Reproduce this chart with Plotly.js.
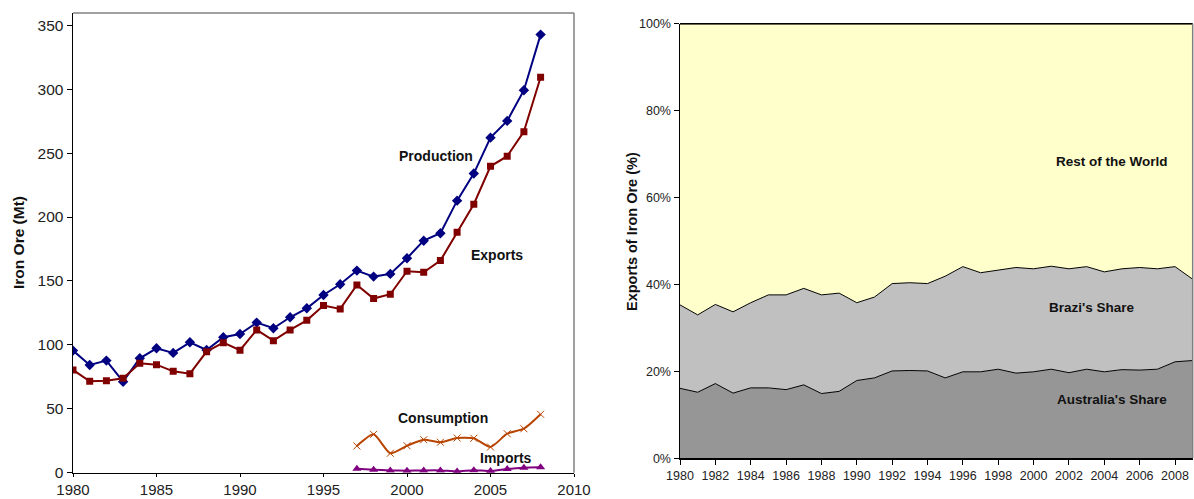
<!DOCTYPE html>
<html>
<head>
<meta charset="utf-8">
<script src="https://cdn.plot.ly/plotly-3.0.1.min.js"></script>
<style>html,body{margin:0;padding:0;background:#fff;}#chart{width:1194px;height:499px;}</style>
</head>
<body>
<div id="chart"></div>
<script>
// Left chart data (Mt)
const yearsA = [1980,1981,1982,1983,1984,1985,1986,1987,1988,1989,1990,1991,1992,1993,1994,1995,1996,1997,1998,1999,2000,2001,2002,2003,2004,2005,2006,2007,2008];
const production = [95.5,84.3,87.7,71.2,89.5,97.3,93.7,102,96,106,108.5,117.4,113,121.6,128.6,139,147.4,158.1,153.4,155.5,167.8,181.5,187.3,212.8,234,262.1,275.2,299.2,342.7];
const exportsMt = [80.4,71.5,72,73.8,85.6,84.5,79.3,77.5,94.7,101.7,95.8,111.7,103.3,111.7,119.2,130.7,128.1,146.9,136.2,139.6,157.6,156.8,165.9,188.1,210,239.7,247.6,266.8,309.4];
const yearsB = [1997,1998,1999,2000,2001,2002,2003,2004,2005,2006,2007,2008];
const consumption = [20.9,30,15.2,21.1,25.8,23.8,27.2,26.9,20.1,30.5,34.4,45.7];
const imports = [3.1,2.3,1.8,1.6,1.8,1.8,1.0,2.0,1.3,2.9,3.9,4.2];

// Right chart data (% of exports)
const yearsC = [1980,1981,1982,1983,1984,1985,1986,1987,1988,1989,1990,1991,1992,1993,1994,1995,1996,1997,1998,1999,2000,2001,2002,2003,2004,2005,2006,2007,2008,2009];
const australiaShare = [16.1,15.2,17.2,15.0,16.2,16.2,15.8,16.9,14.9,15.4,17.9,18.5,20.1,20.2,20.1,18.5,19.9,19.9,20.5,19.6,19.9,20.5,19.7,20.5,19.9,20.4,20.3,20.5,22.2,22.5];
const brazilShare = [19.2,17.8,18.2,18.7,19.6,21.4,21.8,22.2,22.7,22.6,17.9,18.6,20.1,20.2,20.1,23.4,24.2,22.8,22.8,24.3,23.7,23.7,23.9,23.6,23.0,23.2,23.6,23.1,21.9,18.7];
const restShare = [64.7,67.0,64.6,66.3,64.2,62.4,62.4,60.9,62.4,62.0,64.2,62.9,59.8,59.6,59.8,58.1,55.9,57.3,56.7,56.1,56.4,55.8,56.4,55.9,57.1,56.4,56.1,56.4,55.9,58.8];

const W = 1194, H = 499;
const px = v => v / W;
const py = v => 1 - v / H;

const traces = [
  {x: yearsA, y: production, type: 'scatter', mode: 'lines+markers', name: 'Production',
   line: {color: '#000080', width: 2}, marker: {symbol: 'diamond', size: 8, color: '#000080'}, xaxis: 'x', yaxis: 'y'},
  {x: yearsA, y: exportsMt, type: 'scatter', mode: 'lines+markers', name: 'Exports',
   line: {color: '#800000', width: 2}, marker: {symbol: 'square', size: 7, color: '#800000'}, xaxis: 'x', yaxis: 'y'},
  {x: yearsB, y: consumption, type: 'scatter', mode: 'lines+markers', name: 'Consumption',
   line: {color: '#B84400', width: 2, shape: 'spline', smoothing: 0.6}, marker: {symbol: 'x-thin', size: 7, line: {color: '#B84400', width: 1}}, xaxis: 'x', yaxis: 'y'},
  {x: yearsB, y: imports, type: 'scatter', mode: 'lines+markers', name: 'Imports',
   line: {color: '#800080', width: 2, shape: 'spline', smoothing: 0.6}, marker: {symbol: 'triangle-up', size: 8, color: '#800080'}, xaxis: 'x', yaxis: 'y'},
  {x: yearsC, y: australiaShare, type: 'scatter', mode: 'lines', stackgroup: 'one', name: "Australia's Share",
   line: {color: '#000', width: 1}, fillcolor: '#969696', xaxis: 'x2', yaxis: 'y2'},
  {x: yearsC, y: brazilShare, type: 'scatter', mode: 'lines', stackgroup: 'one', name: "Brazi's Share",
   line: {color: '#000', width: 1}, fillcolor: '#C0C0C0', xaxis: 'x2', yaxis: 'y2'},
  {x: yearsC, y: restShare, type: 'scatter', mode: 'lines', stackgroup: 'one', name: 'Rest of the World',
   line: {color: '#000', width: 1}, fillcolor: '#FFFFCC', xaxis: 'x2', yaxis: 'y2'}
];

const FAM = 'Liberation Sans, Arial, sans-serif';
const tickFontL = {family: FAM, size: 15.5, color: '#222'};
const tickFontLX = {family: FAM, size: 15, color: '#222'};
const tickFontR = {family: FAM, size: 12.5, color: '#222'};
const lblFont = {family: FAM, size: 14, color: '#111', weight: 'bold'};
const lblFontR = {family: FAM, size: 13.5, color: '#111', weight: 'bold'};
const titleFontL = {family: FAM, size: 15.5, color: '#111', weight: 'bold'};
const titleFontR = {family: FAM, size: 14.5, color: '#111', weight: 'bold'};

function ann(text, x, y, font, angle) {
  return {text: text, xref: 'paper', yref: 'paper', x: px(x), y: py(y), xanchor: 'center', yanchor: 'middle',
          textangle: angle || 0, showarrow: false, font: font};
}

const layout = {
  width: W, height: H,
  margin: {l: 0, r: 0, t: 0, b: 0},
  paper_bgcolor: '#fff', plot_bgcolor: 'rgba(0,0,0,0)',
  showlegend: false,
  xaxis: {domain: [px(73), px(574)], range: [1980, 2010], dtick: 5, tick0: 1980,
    showgrid: false, zeroline: false, showline: true, linecolor: '#000', linewidth: 1.5,
    ticks: 'outside', ticklen: 3, tickcolor: '#000', tickfont: tickFontLX, automargin: false},
  yaxis: {domain: [py(472.7), py(13)], range: [0, 359.6], dtick: 50, tick0: 0,
    showgrid: false, zeroline: false, showline: true, linecolor: '#000', linewidth: 1.5,
    ticks: 'outside', ticklen: 5, tickcolor: '#000', tickfont: tickFontL, automargin: false},
  xaxis2: {domain: [px(680), px(1192.7)], range: [1980, 2009], dtick: 2, tick0: 1980, anchor: 'y2',
    showgrid: false, zeroline: false, showline: true, linecolor: '#000', linewidth: 1.5,
    ticks: 'outside', ticklen: 5, tickcolor: '#000', tickfont: tickFontR, automargin: false},
  yaxis2: {domain: [py(458.3), py(23.7)], range: [0, 100], dtick: 20, ticksuffix: '%', anchor: 'x2',
    showgrid: false, zeroline: false, showline: true, linecolor: '#000', linewidth: 1.5,
    ticks: 'outside', ticklen: 5, tickcolor: '#000', tickfont: tickFontR, automargin: false},
  shapes: [
    {type: 'line', xref: 'paper', yref: 'paper', x0: px(73), x1: px(574), y0: py(13), y1: py(13), line: {color: '#808080', width: 1.5}},
    {type: 'line', xref: 'paper', yref: 'paper', x0: px(574), x1: px(574), y0: py(13), y1: py(472.7), line: {color: '#808080', width: 1.5}},
    {type: 'line', xref: 'paper', yref: 'paper', x0: px(680), x1: px(1192.7), y0: py(23.7), y1: py(23.7), line: {color: '#000', width: 1.5}},
    {type: 'line', xref: 'paper', yref: 'paper', x0: px(1192.7), x1: px(1192.7), y0: py(23.7), y1: py(458.3), line: {color: '#808080', width: 1.5}}
  ],
  annotations: [
    ann('Iron Ore (Mt)', 19, 243, titleFontL, -90),
    ann('Exports of Iron Ore (%)', 632, 232, titleFontR, -90),
    ann('Production', 436, 156, lblFont),
    ann('Exports', 497, 255, lblFont),
    ann('Consumption', 443, 418, lblFont),
    ann('Imports', 506, 458, lblFont),
    ann('Rest of the World', 1112, 161, lblFontR),
    ann("Brazi's Share", 1091, 307, lblFontR),
    ann("Australia's Share", 1112, 399, lblFontR)
  ]
};

Plotly.newPlot('chart', traces, layout, {displayModeBar: false, staticPlot: true});
</script>
</body>
</html>
